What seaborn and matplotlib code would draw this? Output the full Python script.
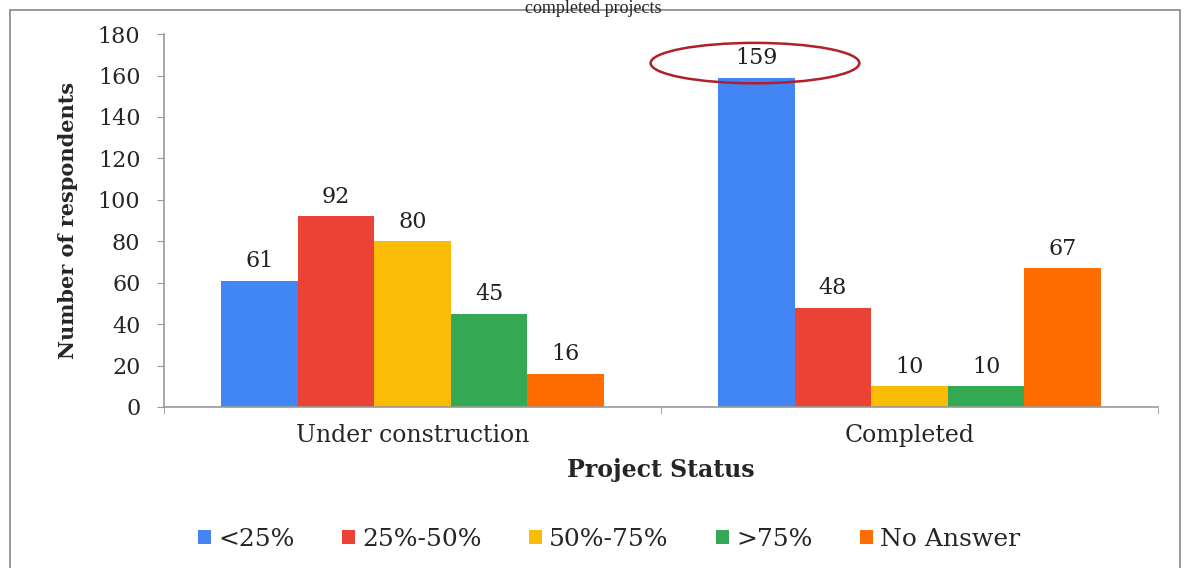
import pandas as pd
import matplotlib.pyplot as plt
import seaborn as sns
from matplotlib.patches import Ellipse, Rectangle

# data
statuses = ['Under construction', 'Completed']
shares = ['<25%', '25%-50%', '50%-75%', '>75%', 'No Answer']
under_construction = [61, 92, 80, 45, 16]
completed = [159, 48, 10, 10, 67]
colors = ['#4285F4', '#EA4335', '#FBBC05', '#34A853', '#FF6D01']

rows = []
for share, a, b in zip(shares, under_construction, completed):
    rows.append({'status': statuses[0], 'share': share, 'n': a})
    rows.append({'status': statuses[1], 'share': share, 'n': b})
df = pd.DataFrame(rows)

sns.set_style('white')
plt.rcParams['font.family'] = ['DejaVu Serif']

fig = plt.figure(figsize=(11.87, 5.68), dpi=100)
ax = fig.add_axes([0.1382, 0.2835, 0.8374, 0.6565])

sns.barplot(data=df, x='status', y='n', hue='share', hue_order=shares,
            order=statuses, palette=colors, width=0.77, gap=0,
            saturation=1, linewidth=0, ax=ax, legend=True)

for c in ax.containers:
    ax.bar_label(c, padding=6, fontsize=16, color='#222222')

ax.set_ylim(0, 180)
ax.set_xlim(-0.5, 1.5)
ax.set_yticks(range(0, 181, 20))
ax.tick_params(axis='y', labelsize=16, length=5, color='#999999', direction='out', left=True, pad=12)
ax.tick_params(axis='x', labelsize=17, length=0, pad=12)
ax.set_xticks([-0.5, 0.5, 1.5], minor=True)
ax.tick_params(axis='x', which='minor', length=5, color='#999999', bottom=True)

for s in ['top', 'right']:
    ax.spines[s].set_visible(False)
for s in ['left', 'bottom']:
    ax.spines[s].set_color('#999999')
    ax.spines[s].set_linewidth(1.2)

ax.set_xlabel('Project Status', fontsize=17, fontweight='bold', labelpad=8)
ax.set_ylabel('Number of respondents', fontsize=15, fontweight='bold', labelpad=14)

# red highlight around the 159 label
ax.add_patch(Ellipse((0.689, 166), 0.42, 19.5, fill=False, edgecolor='#B0202A',
                     linewidth=1.8, clip_on=False))

ax.legend(loc='center', bbox_to_anchor=(0.448, -0.355), ncol=5, frameon=False,
          fontsize=18, handlelength=0.5, handleheight=0.5, handletextpad=0.3,
          columnspacing=1.9)

# outer frame and caption at the top edge
fig.patches.append(Rectangle((10 / 1187, -0.05), 1170 / 1187, 1.05 - 10 / 568,
                             transform=fig.transFigure, fill=False,
                             edgecolor='#888888', linewidth=1.2))
fig.text(0.5, 1.0, 'completed projects', ha='center', va='top',
         fontsize=13, family='Liberation Serif')

fig.savefig('out.png', dpi=100)
